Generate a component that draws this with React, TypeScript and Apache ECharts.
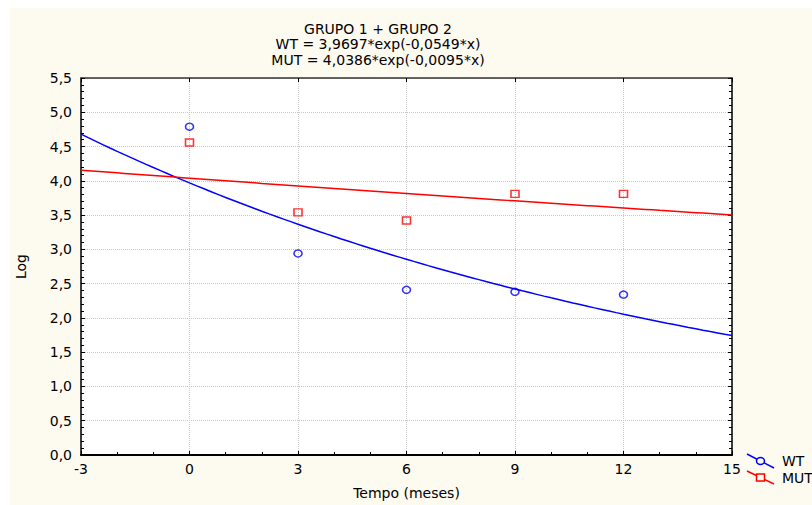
import React, { useEffect, useRef } from "react";
import * as echarts from "echarts";

// Observed means (log scale) per month
const months = [0, 3, 6, 9, 12];
const wtLog = [4.79, 2.94, 2.41, 2.38, 2.34];
const mutLog = [4.56, 3.54, 3.42, 3.81, 3.81];

// Exponential fit coefficients: y = a * exp(b * x)
const wtA = 3.9697;
const wtB = -0.0549;
const mutA = 4.0386;
const mutB = -0.0095;

// Axis ranges
const xMin = -3;
const xMax = 15;
const xStep = 3;
const yMin = 0;
const yMax = 5.5;
const yStep = 0.5;

const BLUE = "#0000ff";
const RED = "#ff0000";
const FONT = "DejaVu Sans, Arial, sans-serif";

const comma = (v: number, d: number) => v.toFixed(d).replace(".", ",");

function fitCurve(a: number, b: number): number[][] {
  const pts: number[][] = [];
  const n = 90;
  for (let i = 0; i <= n; i++) {
    const x = xMin + ((xMax - xMin) * i) / n;
    pts.push([x, a * Math.exp(b * x)]);
  }
  return pts;
}

export default function App() {
  const ref = useRef<HTMLDivElement>(null);

  useEffect(() => {
    if (!ref.current) return;
    const chart = echarts.init(ref.current, undefined, { renderer: "svg" });

    const axisLine = { show: true, onZero: false, lineStyle: { color: "#000", width: 1.5 } };
    const tick = { show: true, inside: true, length: 4, lineStyle: { color: "#000", width: 1 } };
    const minor = (n: number) => ({
      show: true,
      splitNumber: n,
      length: 3,
      lineStyle: { color: "#000", width: 1 },
    });
    const labelStyle = { color: "#000", fontSize: 14, fontFamily: FONT };
    const grid = { show: true, lineStyle: { color: "#c8c8c8", type: "dotted", width: 1 } };

    const titleLines = [
      "GRUPO 1 + GRUPO 2",
      `WT = ${comma(wtA, 4)}*exp(${comma(wtB, 4)}*x)`,
      `MUT = ${comma(mutA, 4)}*exp(${comma(mutB, 4)}*x)`,
    ];

    chart.setOption({
      animation: false,
      backgroundColor: "#ffffff",
      grid: {
        left: 81,
        top: 78,
        width: 651,
        height: 378,
        show: true,
        backgroundColor: "#ffffff",
        borderWidth: 0,
        z: 0,
      },
      xAxis: [
        {
          type: "value",
          min: xMin,
          max: xMax,
          interval: xStep,
          position: "bottom",
          axisLine: { show: true, onZero: false, lineStyle: { color: "#000", width: 2 } },
          axisTick: tick,
          minorTick: minor(3),
          axisLabel: { ...labelStyle, margin: 7, formatter: (v: number) => String(v) },
          splitLine: grid,
          name: "Tempo (meses)",
          nameLocation: "middle",
          nameGap: 31,
          nameTextStyle: { ...labelStyle },
        },
        {
          type: "value",
          min: xMin,
          max: xMax,
          interval: xStep,
          position: "top",
          axisLine: { show: true, onZero: false, lineStyle: { color: "#333", width: 1.5 } },
          axisTick: tick,
          minorTick: { show: false },
          axisLabel: { show: false },
          splitLine: { show: false },
        },
      ],
      yAxis: [
        {
          type: "value",
          min: yMin,
          max: yMax,
          interval: yStep,
          position: "left",
          axisLine,
          axisTick: tick,
          minorTick: minor(5),
          axisLabel: { ...labelStyle, margin: 9, formatter: (v: number) => comma(v, 1) },
          splitLine: grid,
          name: "Log",
          nameLocation: "middle",
          nameGap: 53,
          nameTextStyle: { ...labelStyle },
        },
        {
          type: "value",
          min: yMin,
          max: yMax,
          interval: yStep,
          position: "right",
          axisLine,
          axisTick: tick,
          minorTick: minor(5),
          axisLabel: { show: false },
          splitLine: { show: false },
        },
      ],
      series: [
        {
          name: "WT fit",
          type: "line",
          data: fitCurve(wtA, wtB),
          showSymbol: false,
          symbol: "none",
          lineStyle: { color: BLUE, width: 1.5 },
          clip: true,
          z: 3,
        },
        {
          name: "MUT fit",
          type: "line",
          data: fitCurve(mutA, mutB),
          showSymbol: false,
          symbol: "none",
          lineStyle: { color: RED, width: 1.5 },
          clip: true,
          z: 3,
        },
        {
          name: "WT",
          type: "scatter",
          data: months.map((m, i) => [m, wtLog[i]]),
          symbol: "circle",
          symbolSize: [8, 7],
          itemStyle: { color: "transparent", borderColor: BLUE, borderWidth: 1.5 },
          z: 4,
        },
        {
          name: "MUT",
          type: "scatter",
          data: months.map((m, i) => [m, mutLog[i]]),
          symbol: "rect",
          symbolSize: [8, 7],
          itemStyle: { color: "transparent", borderColor: RED, borderWidth: 1.5 },
          z: 4,
        },
      ],
      graphic: [
        {
          type: "rect",
          z: -100,
          silent: true,
          shape: { x: 10, y: 8, width: 820, height: 520 },
          style: { fill: "#fdfaf0" },
        },
        {
          type: "text",
          x: 378,
          y: 21,
          style: {
            text: titleLines.join("\n"),
            fill: "#000",
            font: `14px ${FONT}`,
            align: "center",
            verticalAlign: "top",
            lineHeight: 15.5,
          },
        },
        // Legend: WT
        {
          type: "line",
          shape: { x1: 747, y1: 454, x2: 774, y2: 468 },
          style: { stroke: BLUE, lineWidth: 1.5 },
        },
        {
          type: "ellipse",
          shape: { cx: 760.5, cy: 461, rx: 4, ry: 3.5 },
          style: { fill: "#fdfaf0", stroke: BLUE, lineWidth: 1.5 },
        },
        {
          type: "text",
          x: 782,
          y: 461,
          style: { text: "WT", fill: "#000", font: `14px ${FONT}`, verticalAlign: "middle" },
        },
        // Legend: MUT
        {
          type: "line",
          shape: { x1: 747, y1: 471, x2: 774, y2: 484 },
          style: { stroke: RED, lineWidth: 1.5 },
        },
        {
          type: "rect",
          shape: { x: 756.5, y: 474, width: 8, height: 7 },
          style: { fill: "#fdfaf0", stroke: RED, lineWidth: 1.5 },
        },
        {
          type: "text",
          x: 782,
          y: 478,
          style: { text: "MUT", fill: "#000", font: `14px ${FONT}`, verticalAlign: "middle" },
        },
      ],
    });

    return () => chart.dispose();
  }, []);

  return (
    <div
      ref={ref}
      style={{ position: "fixed", left: 0, top: 0, width: 812, height: 505 }}
    />
  );
}
